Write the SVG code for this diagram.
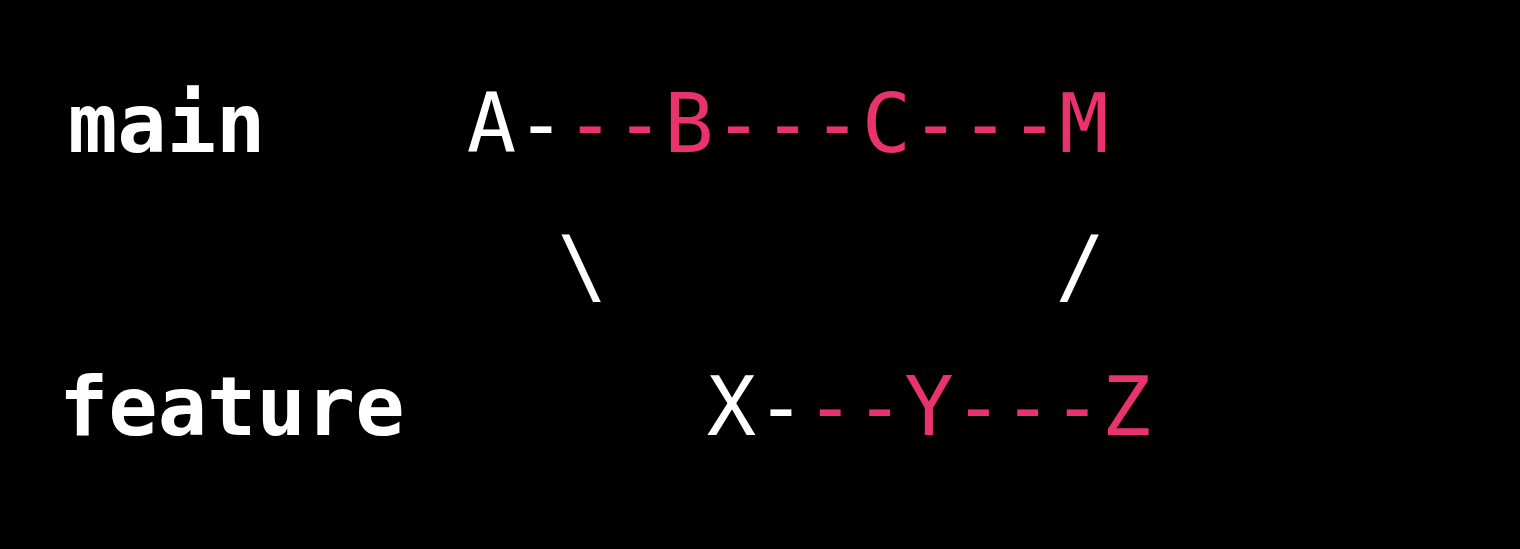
<svg xmlns="http://www.w3.org/2000/svg" width="1520" height="549" viewBox="0 0 1520 549">
<style>
text{font-family:"DejaVu Sans Mono","Liberation Mono",monospace;font-size:82px;fill:#ffffff;white-space:pre}
.lbl{font-weight:bold}
.p{fill:#e8336e}
</style>
<rect x="0" y="0" width="1520" height="549" fill="#000000"/>
<g id="labels">
<text class="lbl" x="68" y="152">main</text>
<text class="lbl" x="59" y="435">feature</text>
</g>
<g id="main-branch">
<text x="466.8" y="152">A-<tspan class="p">--B---C---M</tspan></text>
</g>
<g id="connectors">
<text x="557.5" y="293.5">\</text>
<text x="1055.5" y="293.5">/</text>
</g>
<g id="feature-branch">
<text x="706.8" y="435">X-<tspan class="p">--Y---Z</tspan></text>
</g>
</svg>
